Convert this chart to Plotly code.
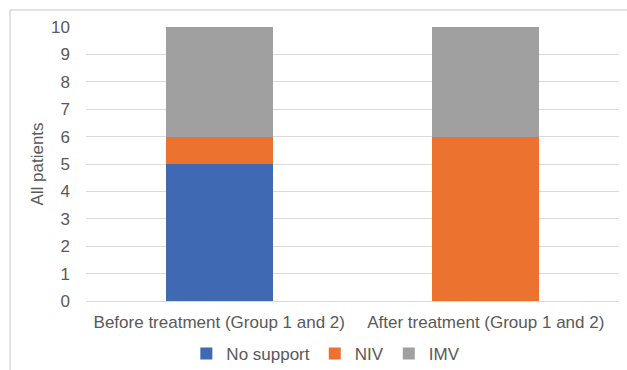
import plotly.graph_objects as go

categories = ["Before treatment (Group 1 and 2)", "After treatment (Group 1 and 2)"]
no_support = [5, 0]
niv = [1, 6]
imv = [4, 4]

series = [
    ("No support", no_support, "#4069B3"),
    ("NIV", niv, "#EC7230"),
    ("IMV", imv, "#A0A0A0"),
]

font_family = "Liberation Sans, Arial, sans-serif"
text_color = "#595959"

fig = go.Figure()
for name, values, color in series:
    fig.add_trace(go.Bar(
        x=categories, y=values, name=name,
        marker=dict(color=color, line=dict(width=0)),
    ))

fig.update_layout(
    barmode="stack",
    bargap=0.6,
    width=627, height=370,
    margin=dict(l=86, r=8, t=27, b=69, autoexpand=False),
    paper_bgcolor="white",
    plot_bgcolor="white",
    font=dict(family=font_family, size=17, color=text_color),
    showlegend=True,
    legend=dict(
        orientation="h", x=0.45, xanchor="center", y=-0.193, yanchor="middle",
        font=dict(size=17, color=text_color),
        itemwidth=30, traceorder="normal",
    ),
    xaxis=dict(
        automargin=False,
        showgrid=False, showline=False, ticks="",
        ticklabelstandoff=9,
        tickfont=dict(size=17, color=text_color),
    ),
    yaxis=dict(
        automargin=False,
        range=[0, 10], dtick=1, tick0=0,
        showgrid=True, gridcolor="#D9D9D9", gridwidth=1,
        zeroline=True, zerolinecolor="#D9D9D9", zerolinewidth=1,
        showline=False, ticks="",
        ticklabelstandoff=15,
        tickfont=dict(size=17, color=text_color),
        title=dict(text="All patients", font=dict(size=17, color=text_color), standoff=3),
    ),
)

# Outer frame on the left and top edges
fig.add_shape(type="line", xref="paper", yref="paper",
              x0=-76 / 533, x1=-76 / 533, y0=1 + 17 / 274, y1=-69 / 274,
              line=dict(color="#D9D9D9", width=1.5))
fig.add_shape(type="line", xref="paper", yref="paper",
              x0=-76 / 533, x1=1 + 8 / 533, y0=1 + 17 / 274, y1=1 + 17 / 274,
              line=dict(color="#D9D9D9", width=1.5))

fig.write_html("out.html")
